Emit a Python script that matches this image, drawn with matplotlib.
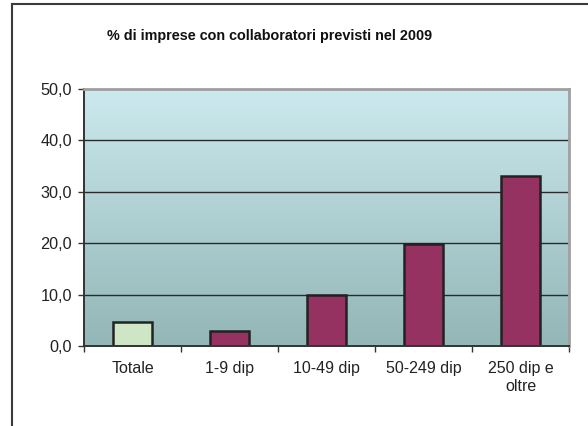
import matplotlib.pyplot as plt
import numpy as np
from matplotlib.colors import LinearSegmentedColormap
from matplotlib.lines import Line2D

plt.rcParams["font.family"] = ["Liberation Sans", "DejaVu Sans"]

categories = ["Totale", "1-9 dip", "10-49 dip", "50-249 dip", "250 dip e\noltre"]
values = [4.7, 3.0, 10.0, 19.8, 33.1]
bar_colors = ["#cfe6c6", "#953262", "#953262", "#953262", "#953262"]
yticks = [0, 10, 20, 30, 40, 50]
title = "% di imprese con collaboratori previsti nel 2009"

fig = plt.figure(figsize=(5.88, 4.26), dpi=100)
ax = fig.add_axes([84 / 588, 80 / 426, 485 / 588, 257 / 426])

# gradient background of the plot area
bg = LinearSegmentedColormap.from_list("bg", ["#93b6b6", "#cbe9ee"])
grad = np.linspace(0, 1, 256).reshape(-1, 1)
ax.imshow(grad, cmap=bg, origin="lower", aspect="auto",
          extent=(-0.5, len(categories) - 0.5, 0, 50), zorder=0)

for y in yticks[1:-1]:
    ax.axhline(y, color="#2a2a2a", lw=1.0, zorder=1)

x = np.arange(len(categories))
ax.bar(x, values, width=0.4, color=bar_colors, edgecolor="#222222",
       linewidth=1.8, zorder=2)

ax.set_xlim(-0.5, len(categories) - 0.5)
ax.set_ylim(0, 50)
ax.set_yticks(yticks)
ax.set_yticklabels([f"{v:.1f}".replace(".", ",") for v in yticks], fontsize=11.7,
                   color="#222222")
ax.set_xticks(np.arange(len(categories) + 1) - 0.5)
ax.set_xticklabels([])
ax.set_xticks(x, minor=True)
ax.set_xticklabels(categories, minor=True, fontsize=11.5, linespacing=1.25,
                   color="#222222")
ax.tick_params(axis="x", which="minor", length=0, pad=11)
ax.tick_params(axis="x", which="major", length=4.5, width=1, color="#333333")
ax.tick_params(axis="y", length=4.5, width=1, color="#333333", pad=4)

for side in ["left", "bottom"]:
    ax.spines[side].set_color("#333333")
    ax.spines[side].set_linewidth(1.4)
for side in ["top", "right"]:
    ax.spines[side].set_color("#a0a0a0")
    ax.spines[side].set_linewidth(2.0)

fig.text(270 / 588, 1 - 36 / 426, title, ha="center", va="center",
         fontsize=10.35, fontweight="bold", color="#111111")

# chart frame (only top and left are inside the picture)
fig.add_artist(Line2D([12 / 588, 12 / 588], [0, 1 - 4 / 426],
                      transform=fig.transFigure, color="#3a3a3a", lw=1.5))
fig.add_artist(Line2D([12 / 588, 1], [1 - 4 / 426, 1 - 4 / 426],
                      transform=fig.transFigure, color="#3a3a3a", lw=1.5))

fig.savefig("out.png", dpi=100)
